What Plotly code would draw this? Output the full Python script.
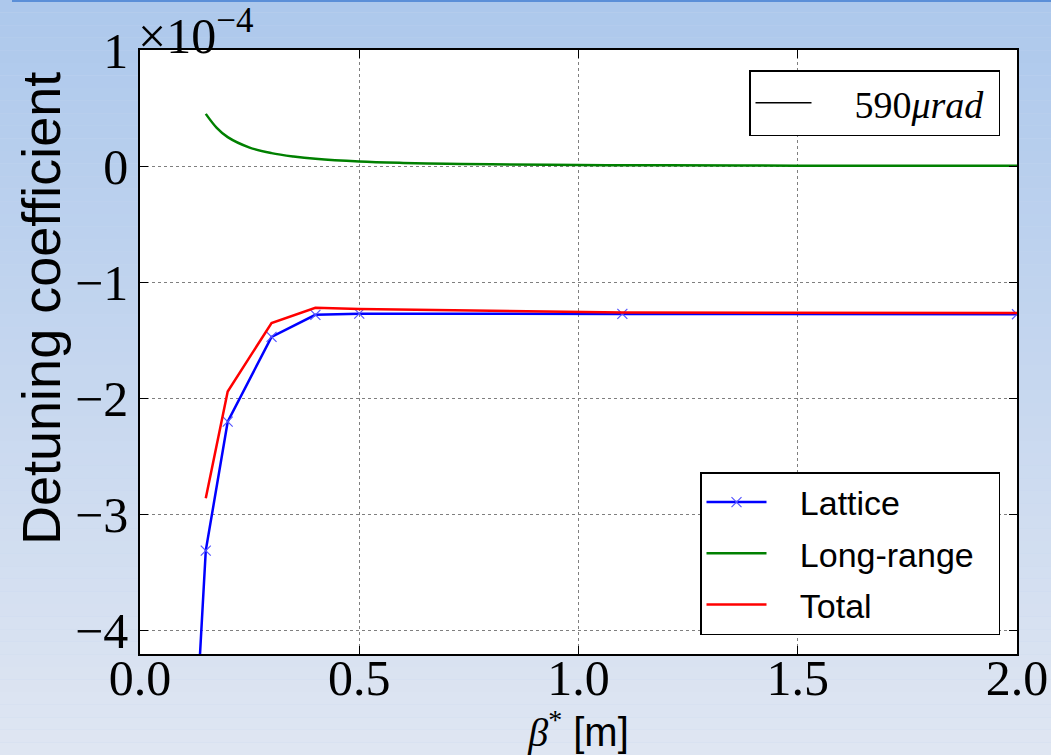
import plotly.graph_objects as go

# ---- data ----
lattice_beta = [0.10, 0.15, 0.20, 0.30, 0.40, 0.50, 1.10, 2.00]
lattice_val = [-6.7e-4, -3.31e-4, -2.20e-4, -1.47e-4, -1.28e-4, -1.27e-4, -1.272e-4, -1.275e-4]

longrange_beta = [0.15, 0.175, 0.20, 0.25, 0.30, 0.35, 0.40, 0.50, 0.60, 0.70, 0.80,
                  1.00, 1.20, 1.50, 1.75, 2.00]
longrange_val = [0.45e-4, 0.33e-4, 0.25e-4, 0.16e-4, 0.112e-4, 0.083e-4, 0.063e-4, 0.040e-4,
                 0.028e-4, 0.021e-4, 0.016e-4, 0.010e-4, 0.007e-4, 0.0045e-4, 0.0033e-4, 0.0025e-4]

total_beta = [0.15, 0.20, 0.30, 0.40, 0.50, 1.10, 2.00]
total_val = [-2.86e-4, -1.94e-4, -1.35e-4, -1.22e-4, -1.23e-4, -1.26e-4, -1.265e-4]

x_ticks = [0.0, 0.5, 1.0, 1.5, 2.0]
x_ticklabels = ["0.0", "0.5", "1.0", "1.5", "2.0"]
y_ticks = [-4e-4, -3e-4, -2e-4, -1e-4, 0.0, 1e-4]
y_ticklabels = ["\u22124", "\u22123", "\u22122", "\u22121", "0", "1"]

W, H = 1051, 755
ML, MR, MT, MB = 140, 34, 50, 101
PW, PH = W - ML - MR, H - MT - MB

SERIF = "Liberation Serif"
SANS = "Liberation Sans"
NB = "\u00a0"

fig = go.Figure()

fig.add_trace(go.Scatter(
    x=lattice_beta, y=lattice_val, name=NB * 3 + "Lattice", mode="lines+markers",
    line=dict(color="#0000ff", width=2.5),
    marker=dict(symbol="x-thin", size=10, color="#5555ff", line=dict(width=1.2, color="#5555ff")),
    legend="legend2", legendgroup="a"))
fig.add_trace(go.Scatter(
    x=longrange_beta, y=longrange_val, name=NB * 3 + "Long-range" + NB * 2, mode="lines",
    line=dict(color="#008000", width=2.5, shape="spline"),
    legend="legend2", legendgroup="b"))
fig.add_trace(go.Scatter(
    x=total_beta, y=total_val, name=NB * 3 + "Total", mode="lines",
    line=dict(color="#ff0000", width=2.5),
    legend="legend2", legendgroup="c"))
fig.add_trace(go.Scatter(
    x=[None], y=[None], name=NB * 4 + "590<i>\u03bcrad</i>" + NB, mode="lines",
    line=dict(color="black", width=1.5), legend="legend", showlegend=True))

# background gradient
shapes = []
N = 60
top = (173, 200, 236)
bot = (223, 230, 242)
y_lo = -MB / PH
y_hi = 1 + MT / PH
for i in range(N):
    f = i / (N - 1)
    c = tuple(round(top[k] + (bot[k] - top[k]) * f) for k in range(3))
    y1 = y_hi - (y_hi - y_lo) * i / N
    y0 = y_hi - (y_hi - y_lo) * (i + 1) / N
    shapes.append(dict(type="rect", xref="paper", yref="paper", layer="below",
                       x0=-ML / PW, x1=1 + MR / PW, y0=y0, y1=y1,
                       fillcolor="rgb(%d,%d,%d)" % c, line=dict(width=0)))
shapes.append(dict(type="rect", xref="paper", yref="paper", layer="below",
                   x0=-ML / PW + 12 / PW, x1=1 + MR / PW, y0=y_hi - 2 / PH, y1=y_hi,
                   fillcolor="#5b8fd8", line=dict(width=0)))
shapes.append(dict(type="rect", xref="paper", yref="paper", layer="below",
                   x0=0, x1=1, y0=0, y1=1, fillcolor="white", line=dict(width=0)))

axis_common = dict(
    showline=True, linecolor="black", linewidth=1.5, mirror="ticks",
    ticks="inside", ticklen=8, tickwidth=1, tickcolor="black",
    showgrid=True, gridcolor="#7f7f7f", gridwidth=1, griddash="dot",
    zeroline=False, tickfont=dict(family=SERIF, size=50, color="black"),
)

fig.update_layout(
    width=W, height=H, showlegend=True,
    margin=dict(l=ML, r=MR, t=MT, b=MB, autoexpand=False),
    paper_bgcolor="#c6d6ee", plot_bgcolor="white",
    shapes=shapes,
    xaxis=dict(range=[0, 2], tickvals=x_ticks, ticktext=x_ticklabels, ticklabelstandoff=-21,
               title=dict(text="<span style=\"font-family:'Liberation Serif'\"><i>\u03b2</i><sup>*</sup></span>" + NB + "[m]",
                          font=dict(family=SANS, size=40, color="black"), standoff=0),
               **axis_common),
    yaxis=dict(range=[-4.2e-4, 1.0e-4], tickvals=y_ticks, ticktext=y_ticklabels,
               **axis_common),
    legend=dict(x=(1000 - ML) / PW, y=(654 - 70) / PH, xanchor="right", yanchor="top",
                bgcolor="white", bordercolor="black", borderwidth=1.5,
                font=dict(family=SERIF, size=38, color="black"), itemwidth=56),
    legend2=dict(x=(1000 - ML) / PW, y=(654 - 635) / PH, xanchor="right", yanchor="bottom",
                 bgcolor="white", bordercolor="black", borderwidth=1.5,
                 font=dict(family=SANS, size=34, color="black"), itemwidth=60,
                 tracegroupgap=4),
    annotations=[
        dict(text="Detuning coefficient", textangle=-90, xref="paper", yref="paper",
             x=-(ML - 9) / PW, y=(654 - 309) / PH, xanchor="left", yanchor="middle",
             showarrow=False, font=dict(family=SANS, size=54, color="black")),
        dict(text="\u00d710<sup>\u22124</sup>", xref="paper", yref="paper",
             x=-4 / PW, y=1, xanchor="left", yanchor="bottom", yshift=-16, showarrow=False,
             font=dict(family=SERIF, size=50, color="black")),
    ],
)

fig.write_html("out.html")
